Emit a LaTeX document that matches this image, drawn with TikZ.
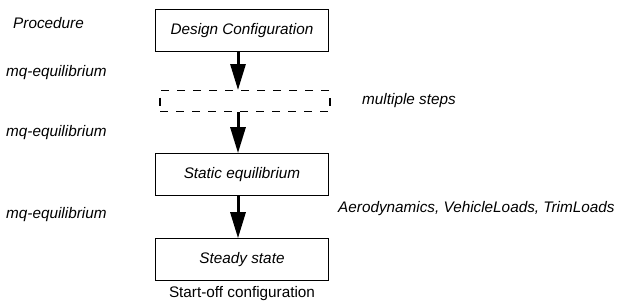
\documentclass[tikz,border=0pt]{standalone}
\usepackage{fontspec}
\setmainfont{Liberation Sans}
\usepackage{tikz}
\usetikzlibrary{positioning,arrows.meta}
\usepackage{xcolor}

\begin{document}
\begin{tikzpicture}[x=1pt, y=-1pt,
    stage/.style={rectangle, draw=black, line width=1.1pt, fill=white,
                  minimum width=173pt, minimum height=42pt,
                  font=\fontsize{15.3pt}{18pt}\selectfont\itshape},
    stepsbox/.style={rectangle, draw=black, line width=1.1pt, dash pattern=on 8pt off 8pt,
                     minimum width=170pt, minimum height=21pt},
    note/.style={anchor=west, inner sep=0pt, font=\fontsize{15.3pt}{18pt}\selectfont\itshape},
    arrow/.style={-{Triangle[length=26pt, width=15pt]}, line width=3pt}
]
    \useasboundingbox (0,0) rectangle (620,304);

    \node[stage] (design) at (242,30.5) {Design Configuration};
    \node[stepsbox, below=38pt of design, xshift=3pt] (steps) {};
    \node[stage, below=41pt of steps, xshift=-3pt] (static) {Static equilibrium};
    \node[stage, below=42pt of static] (steady) {Steady state};
    \node[below=2pt of steady, font=\fontsize{15.3pt}{18pt}\selectfont] (startoff) {Start-off configuration};

    \node[note] (proc) at (13,23) {Procedure};
    \node[note] (mq1) at (6,73) {mq-equilibrium};
    \node[note] (mq2) at (6,133) {mq-equilibrium};
    \node[note] (mq3) at (6,215) {mq-equilibrium};
    \node[note] (multi) at (362,101) {multiple steps};
    \node[note] (loads) at (338,209) {Aerodynamics, VehicleLoads, TrimLoads};

    \draw[arrow] ([xshift=-4pt]design.south) -- ([xshift=-7pt]steps.north);
    \draw[arrow] ([xshift=-7pt]steps.south) -- ([xshift=-4pt]static.north);
    \draw[arrow] ([xshift=-4pt]static.south) -- ([xshift=-4pt]steady.north);
\end{tikzpicture}
\end{document}
